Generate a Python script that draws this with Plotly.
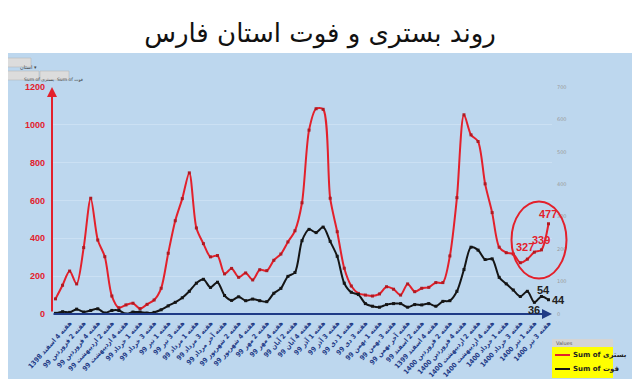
import plotly.graph_objects as go

# ---- data ----
hospitalized = [80, 152, 227, 159, 351, 612, 391, 303, 95, 33,
                48, 57, 28, 51, 74, 136, 321, 493, 610, 746,
                455, 372, 302, 309, 212, 241, 194, 217, 180, 234,
                229, 284, 317, 381, 440, 588, 972, 1085, 1082, 612,
                435, 242, 148, 109, 100, 95, 106, 144, 131, 100,
                159, 118, 136, 141, 166, 166, 307, 615, 1053, 947,
                912, 688, 536, 353, 324, 317, 271, 290, 327, 339, 477]
deaths = [2, 7, 5, 15, 6, 11, 16, 3, 11, 11,
          0, 6, 6, 3, 5, 13, 25, 36, 50, 70,
          95, 107, 82, 98, 57, 42, 53, 41, 46, 41,
          38, 64, 79, 116, 128, 226, 261, 251, 268, 224,
          178, 95, 67, 60, 32, 24, 21, 29, 32, 32,
          21, 29, 28, 32, 24, 39, 41, 70, 137, 206,
          197, 168, 170, 113, 93, 74, 54, 70, 36, 54, 44]
week_index = list(range(len(hospitalized)))

tick_labels = [
    "هفته 1 و 2 اسفند 1398", "هفته 4 اسفند 1398", "هفته 2 فروردین 99", "هفته 4 فروردین 99",
    "هفته 2 اردیبهشت 99", "هفته 4 اردیبهشت 99", "هفته 1 خرداد 99", "هفته 3 خرداد 99",
    "هفته 1 تیر 99", "هفته 3 تیر 99", "هفته 1 مرداد 99", "هفته 3 مرداد 99",
    "هفته آخر مرداد 99", "هفته 2 شهریور 99", "هفته 4 شهریور 99", "هفته 2 مهر 99",
    "هفته 4 مهر 99", "هفته 2 آبان 99", "هفته 4 آبان 99", "هفته 1 آذر 99",
    "هفته 3 آذر 99", "هفته 1 دی 99", "هفته 3 دی 99", "هفته 1 بهمن 99",
    "هفته 3 بهمن 99", "هفته آخر بهمن 99", "هفته 2 اسفند 99", "هفته 4 اسفند 1399",
    "هفته 2 فروردین 1400", "هفته 4 فروردین 1400", "هفته 2 اردیبهشت 1400", "هفته 4 اردیبهشت 1400",
    "هفته 1 خرداد 1400", "هفته 3 خرداد 1400", "هفته 1 تیر 1400", "هفته 3 تیر 1400",
]
tick_positions = week_index[::2]

title_text = "روند بستری و فوت استان فارس"
name_hosp = "Sum of بستری"
name_death = "Sum of فوت"

RED = "#e3202b"
BLACK = "#151515"
NAVY = "#1f3b86"
BG = "#bdd7ee"
FONT = "DejaVu Sans"

# page body has an 8px margin; work in reference pixels and subtract it
OFF = 8
W, H = 640 - OFF, 379 - OFF
L = 52 - OFF
T = 87 - OFF
PW = 500
PH = 227
R = W - L - PW
B = H - T - PH


def px(xp):
    return (xp - OFF - L) / PW


def py(yp):
    return (T + PH - (yp - OFF)) / PH


fig = go.Figure()
fig.add_trace(go.Scatter(
    x=week_index, y=hospitalized, name=name_hosp, mode="lines+markers",
    line=dict(color=RED, width=2, shape="spline", smoothing=0.8),
    marker=dict(color="#b01a22", size=3, symbol="square"),
    yaxis="y", showlegend=False))
fig.add_trace(go.Scatter(
    x=week_index, y=deaths, name=name_death, mode="lines+markers",
    line=dict(color=BLACK, width=2, shape="spline", smoothing=0.8),
    marker=dict(color=BLACK, size=3, symbol="square"),
    yaxis="y2", showlegend=False))

shapes = [
    # blue panel
    dict(type="rect", xref="paper", yref="paper", x0=px(2), x1=px(633), y0=py(380), y1=py(53),
         fillcolor=BG, line=dict(width=0), layer="below"),
    # red circle
    dict(type="circle", xref="paper", yref="paper", x0=px(511.5), x1=px(566.5), y0=py(278.5), y1=py(201.5),
         line=dict(color=RED, width=2)),
    # legend box
    dict(type="rect", xref="paper", yref="paper", x0=px(552), x1=px(613), y0=py(347), y1=py(339),
         fillcolor="#d4d4d4", line=dict(width=0)),
    dict(type="rect", xref="paper", yref="paper", x0=px(552), x1=px(613), y0=py(378), y1=py(347),
         fillcolor="#ffff00", line=dict(width=0)),
    dict(type="line", xref="paper", yref="paper", x0=px(555), x1=px(570), y0=py(355), y1=py(355),
         line=dict(color=RED, width=2)),
    dict(type="line", xref="paper", yref="paper", x0=px(555), x1=px(570), y0=py(369), y1=py(369),
         line=dict(color=BLACK, width=2)),
    # top-left pivot buttons
    dict(type="rect", xref="paper", yref="paper", x0=px(4), x1=px(31), y0=py(67), y1=py(58),
         fillcolor="#dcdcdc", line=dict(color="#b0b0b0", width=0.5)),
    dict(type="rect", xref="paper", yref="paper", x0=px(5), x1=px(39), y0=py(80), y1=py(71),
         fillcolor="#dcdcdc", line=dict(color="#b0b0b0", width=0.5)),
    dict(type="rect", xref="paper", yref="paper", x0=px(40), x1=px(69), y0=py(80), y1=py(71),
         fillcolor="#dcdcdc", line=dict(color="#b0b0b0", width=0.5)),
]

annotations = [
    # red y-axis arrow
    dict(x=-0.5, y=1200, xref="x", yref="y", ax=0, ay=PH - 1, text="", showarrow=True,
         arrowhead=2, arrowsize=1, arrowwidth=2, arrowcolor=RED, standoff=0),
    # x-axis arrow
    dict(x=70.5, y=0, xref="x", yref="y", ax=-PW, ay=0, text="", showarrow=True,
         arrowhead=2, arrowsize=1, arrowwidth=2, arrowcolor=NAVY, standoff=0),
    # legend texts
    dict(xref="paper", yref="paper", x=px(554), y=py(343), text="Values", showarrow=False,
         xanchor="left", yanchor="middle", font=dict(family=FONT, size=5, color="#555")),
    dict(xref="paper", yref="paper", x=px(571), y=py(355), text=name_hosp, showarrow=False,
         xanchor="left", yanchor="middle", font=dict(family=FONT, size=7, color="#222", weight="bold")),
    dict(xref="paper", yref="paper", x=px(571), y=py(369), text=name_death, showarrow=False,
         xanchor="left", yanchor="middle", font=dict(family=FONT, size=7, color="#222", weight="bold")),
    # pivot buttons
    dict(xref="paper", yref="paper", x=px(17.5), y=py(62.5), text="استان ▾", showarrow=False,
         font=dict(family=FONT, size=5, color="#444")),
    dict(xref="paper", yref="paper", x=px(22), y=py(75.5), text=name_hosp, showarrow=False,
         font=dict(family=FONT, size=4.5, color="#444")),
    dict(xref="paper", yref="paper", x=px(54.5), y=py(75.5), text=name_death, showarrow=False,
         font=dict(family=FONT, size=4.5, color="#444")),
]

# data labels
for idx, dx, dy in [(68, -9, 5), (69, 0, 10), (70, 0, 10)]:
    annotations.append(dict(x=week_index[idx], y=hospitalized[idx], xref="x", yref="y",
                            text=str(hospitalized[idx]), showarrow=False, xshift=dx, yshift=dy,
                            font=dict(family="Liberation Sans", size=11, color=RED, weight="bold")))
for idx, dx, dy in [(68, 0, -8), (69, 2, 6), (70, 10, 0)]:
    annotations.append(dict(x=week_index[idx], y=deaths[idx], xref="x", yref="y2",
                            text=str(deaths[idx]), showarrow=False, xshift=dx, yshift=dy,
                            font=dict(family="Liberation Sans", size=11, color="#222", weight="bold")))

fig.update_layout(
    width=W, height=H,
    margin=dict(l=L, r=R, t=T, b=B, autoexpand=False),
    paper_bgcolor="white", plot_bgcolor="rgba(0,0,0,0)",
    title=dict(text=title_text, x=(320 - OFF) / W, xanchor="center", y=1 - (33 - OFF) / H, yanchor="middle",
               font=dict(family=FONT, size=26, color="#111")),
    xaxis=dict(range=[-0.5, 70.5], tickmode="array", tickvals=tick_positions, ticktext=tick_labels,
               tickangle=-48, tickfont=dict(family="DejaVu Sans Condensed, DejaVu Sans", size=6.8, color=NAVY, weight="bold"),
               showgrid=False, zeroline=False, showline=False, ticks="", ticklabelstandoff=3),
    yaxis=dict(range=[0, 1200], dtick=200, tickfont=dict(family="Liberation Sans", size=9, color=RED, weight="bold"),
               showgrid=True, gridcolor="#cbe0f3", gridwidth=1, zeroline=False, showline=False,
               ticks="", ticklabelstandoff=6),
    yaxis2=dict(range=[0, 700], dtick=100, overlaying="y", side="right",
                tickfont=dict(family=FONT, size=5, color="#9a9a9a"), showgrid=False,
                zeroline=False, showline=False, ticks="", ticklabelstandoff=4),
    shapes=shapes, annotations=annotations,
)

fig.write_html("out.html")
